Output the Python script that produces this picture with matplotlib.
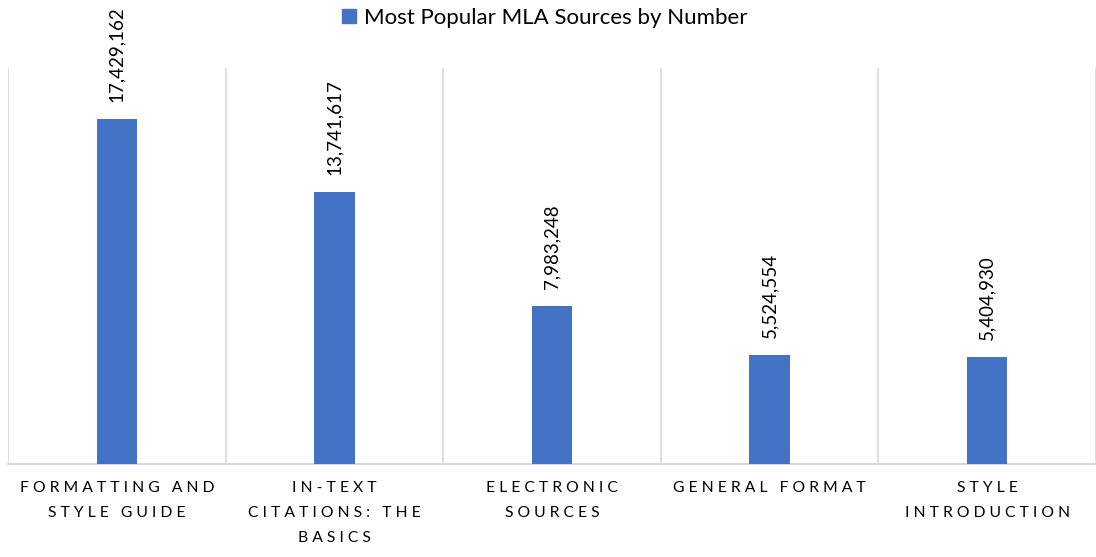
import numpy as np
import matplotlib
matplotlib.use('Agg')
from matplotlib import pyplot as plt
from matplotlib.patches import Patch

# data
categories = ['FORMATTING AND\nSTYLE GUIDE', 'IN-TEXT\nCITATIONS: THE\nBASICS',
              'ELECTRONIC\nSOURCES', 'GENERAL FORMAT', 'STYLE\nINTRODUCTION']
values = [17429162, 13741617, 7983248, 5524554, 5404930]
series_name = 'Most Popular MLA Sources by Number'

bar_color = '#4472C4'
grid_color = '#D9D9D9'

plt.rcParams['font.family'] = ['Lato', 'DejaVu Sans']


def spaced(label):
    # imitate the letter spacing of the original axis labels
    lines = []
    for line in label.split('\n'):
        words = [' '.join(w) for w in line.split(' ')]
        lines.append('   '.join(words))
    return '\n'.join(lines)


fig = plt.figure(figsize=(10.96, 5.57), dpi=100)
ax = fig.add_axes([8 / 1096, 1 - 464 / 557, 1088 / 1096, (464 - 68) / 557])

x = np.arange(len(values))
bars = ax.bar(x, values, width=0.185, color=bar_color, zorder=3)

ax.set_xlim(-0.5, len(values) - 0.5)
ax.set_ylim(0, 20000000)

# vertical separators between categories
for b in np.arange(-0.5, len(values), 1.0):
    ax.axvline(b, color=grid_color, lw=1.2, zorder=1)

for s in ['top', 'right', 'left']:
    ax.spines[s].set_visible(False)
ax.spines['bottom'].set_color(grid_color)
ax.spines['bottom'].set_linewidth(1.5)
ax.set_yticks([])
ax.set_xticks(x)
ax.set_xticklabels([spaced(c) for c in categories], fontsize=11.3, color='#000000',
                   linespacing=2.0, va='top')
ax.tick_params(axis='x', length=0, pad=12)

for rect, v in zip(bars, values):
    ax.annotate(f'{v:,}', (rect.get_x() + rect.get_width() / 2, rect.get_height()),
                xytext=(0, 12), textcoords='offset points', rotation=90,
                ha='center', va='bottom', fontsize=13.5, color='#000000')

fig.legend(handles=[Patch(color=bar_color, label=series_name)], loc='upper center',
           bbox_to_anchor=(0.497, 1.022), frameon=False, fontsize=16,
           handlelength=0.65, handleheight=0.65, handletextpad=0.35)

fig.savefig('out.png', dpi=100)
